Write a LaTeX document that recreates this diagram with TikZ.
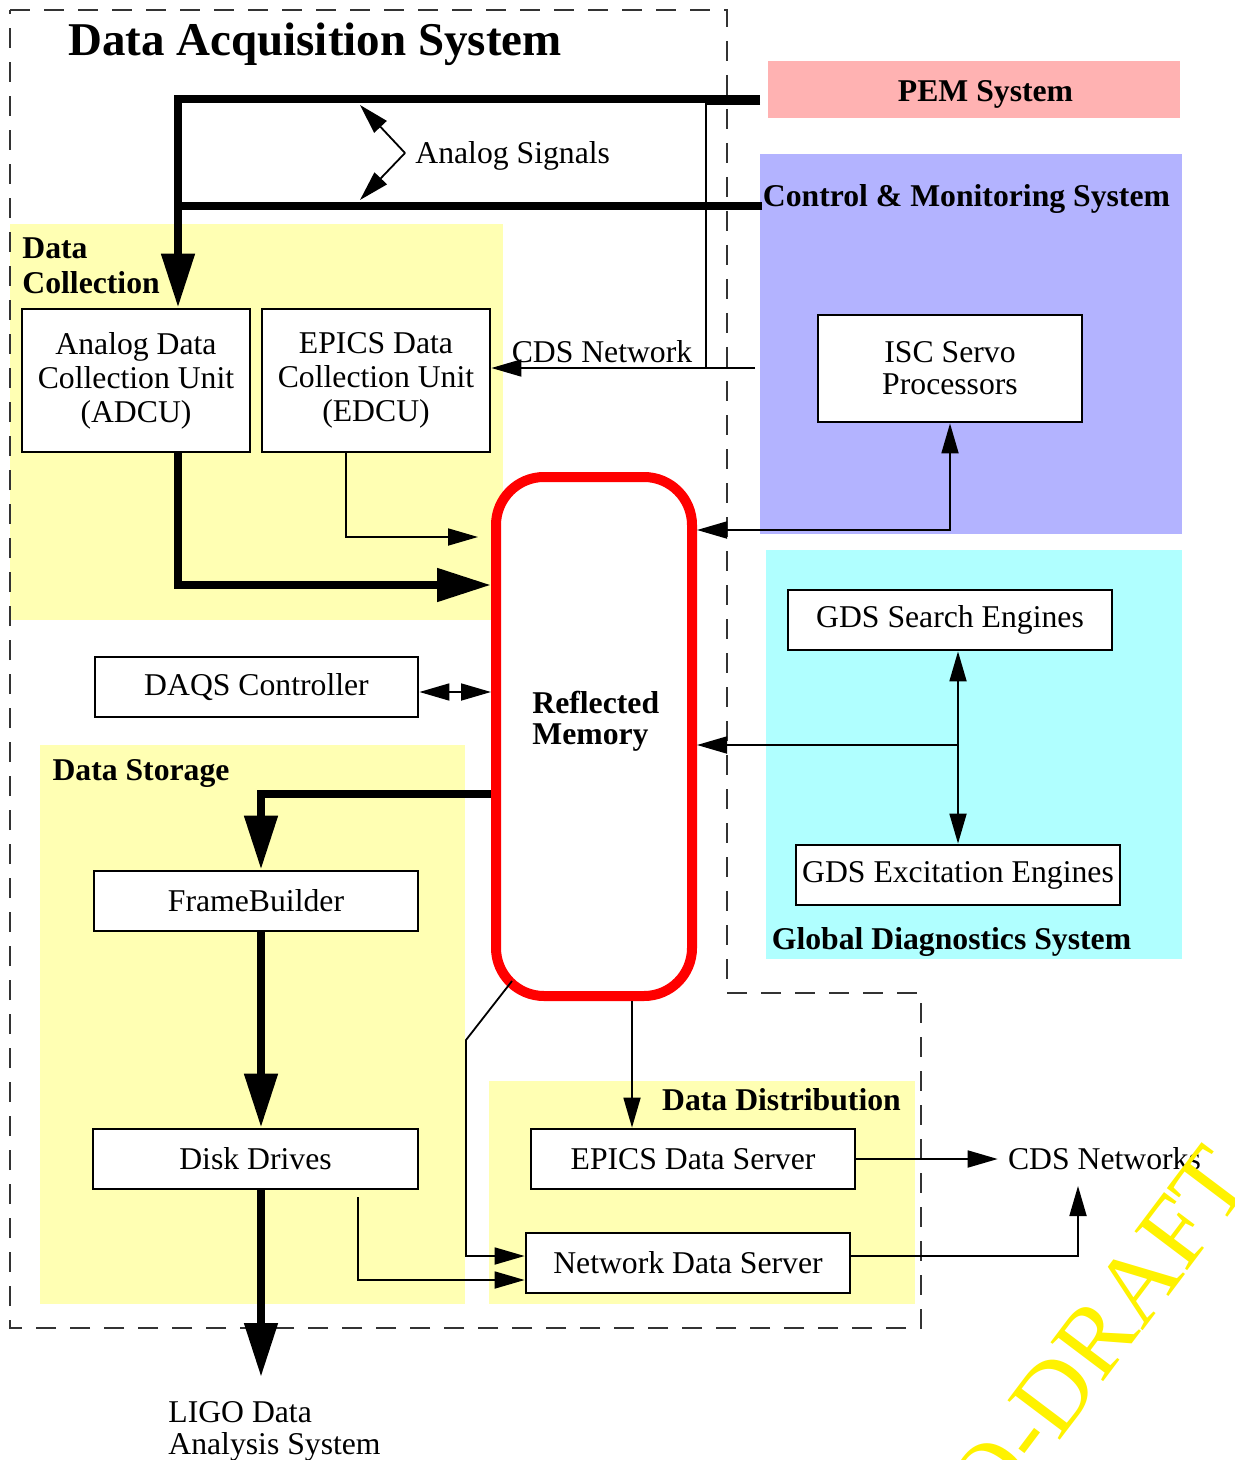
\documentclass[tikz,border=0pt]{standalone}
\usepackage{fontspec}
\setmainfont{Liberation Serif}
\usetikzlibrary{arrows.meta}
\definecolor{pemcol}{RGB}{255,178,178}
\definecolor{cmscol}{RGB}{179,179,255}
\definecolor{gdscol}{RGB}{176,255,255}
\definecolor{subcol}{RGB}{255,255,179}
\definecolor{dashcol}{RGB}{51,51,51}
\newcommand{\txt}{\fontsize{15.85}{17}\selectfont}
\newcommand{\bigtxt}{\fontsize{23.5}{28}\selectfont\bfseries}

\begin{document}
\begin{tikzpicture}[x=0.5pt,y=-0.5pt,
	box/.style={draw,fill=white,line width=1.4pt,inner sep=0pt,font=\txt,align=center},
	area/.style={fill=#1,inner sep=0pt,anchor=north west},
	head/.style={font=\txt\bfseries,inner sep=0pt},
	plain/.style={font=\txt,inner sep=0pt},
	bus/.style={line width=4pt},
	busarrow/.style={line width=4pt,-{Triangle[length=27pt,width=16pt]}},
	wire/.style={line width=0.9pt},
	sig/.style={wire,-{Triangle[length=15pt,width=8.5pt]}},
	sigboth/.style={wire,{Triangle[length=15pt,width=8.5pt]}-{Triangle[length=15pt,width=8.5pt]}}]

	\useasboundingbox (0,0) rectangle (1235,1460);

	\node[area=pemcol,minimum width=206pt,minimum height=28.5pt] (pem) at (768,61) {};
	\node[area=cmscol,minimum width=211pt,minimum height=190pt] (cms) at (760,154) {};
	\node[area=gdscol,minimum width=208pt,minimum height=204.5pt] (gds) at (766,550) {};
	\node[area=subcol,minimum width=246.5pt,minimum height=198pt] (dcoll) at (10,224) {};
	\node[area=subcol,minimum width=212.5pt,minimum height=279.5pt] (dstor) at (40,745) {};
	\node[area=subcol,minimum width=213pt,minimum height=111.5pt] (ddist) at (489,1081) {};

	\draw[dashcol,line width=1pt,dash pattern=on 10pt off 7pt] (10,10) -- (727,10) -- (727,993) -- (921,993) -- (921,1328) -- (10,1328) -- cycle;

	\node[font=\bigtxt,inner sep=0pt] (title) at (315,44) {Data Acquisition System};
	\node[head] (pemlbl) at (985.5,94) {PEM System};
	\node[head] (cmslbl) at (966.5,199) {Control \& Monitoring System};
	\node[head] (gdslbl) at (951.5,942) {Global Diagnostics System};
	\node[head,align=left,anchor=north west,font=\fontsize{15.85}{17.5}\selectfont\bfseries] (dcolllbl) at (22,237) {Data\\Collection};
	\node[head] (dstorlbl) at (141,773) {Data Storage};
	\node[head] (ddistlbl) at (781.5,1100) {Data Distribution};

	\node[box,minimum width=114pt,minimum height=71.5pt] (adcu) at (136,380.5) {Analog Data\\Collection Unit\\(ADCU)};
	\node[box,minimum width=114pt,minimum height=71.5pt] (edcu) at (376,380.5) {EPICS Data\\Collection Unit\\(EDCU)};
	\node[box,minimum width=132pt,minimum height=53.5pt,font=\fontsize{15.85}{16}\selectfont] (isc) at (950,368.5) {ISC Servo\\Processors};
	\node[box,minimum width=162pt,minimum height=30pt] (gdssrch) at (950,620) {GDS Search Engines};
	\node[box,minimum width=162pt,minimum height=30pt] (gdsexc) at (958,875) {GDS Excitation Engines};
	\node[box,minimum width=161.5pt,minimum height=30pt] (daqs) at (256.5,687) {DAQS Controller};
	\node[box,minimum width=162pt,minimum height=30pt] (fb) at (256,901) {FrameBuilder};
	\node[box,minimum width=162.5pt,minimum height=30pt] (disk) at (255.5,1159) {Disk Drives};
	\node[box,minimum width=162pt,minimum height=30pt] (eds) at (693,1159) {EPICS Data Server};
	\node[box,minimum width=162pt,minimum height=30pt] (nds) at (688,1263) {Network Data Server};

	\node[draw=red,line width=5pt,fill=white,rounded corners=24pt,minimum width=98pt,minimum height=259.5pt] (rm) at (594,736.5) {};
	\node[head,align=left,anchor=north west,font=\fontsize{15.85}{15.5}\selectfont\bfseries] (rmlbl) at (532,691) {Reflected\\Memory};

	\node[plain,anchor=west] (siglbl) at (415,156) {Analog Signals};
	\node[plain] (cdsnet) at (602,352) {CDS Network};
	\node[plain,inner sep=5pt] (cdsnets) at (1104.5,1159) {CDS Networks};
	\node[plain,align=left,anchor=north west,font=\fontsize{15.85}{16}\selectfont] (ligo) at (168,1401) {LIGO Data\\Analysis System};

	\coordinate (pemout) at (760,99);
	\coordinate (cmsout) at (762,206);
	\coordinate (trunk) at (178,99);
	\coordinate (pemtap) at (760,104);
	\coordinate (cdstap) at (706,104);
	\coordinate (cdsin) at (755,368);
	\coordinate (sigknee) at (405,153);
	\coordinate (sigtop) at (360,105);
	\coordinate (sigbot) at (360,200);
	\coordinate (edcuin) at (478,537);
	\coordinate (spine) at (261,794);
	\coordinate (ligoin) at (261,1377);
	\coordinate (rmcorner) at (512,981);
	\coordinate (diskout) at (358,1197);
	\coordinate (netsin) at (1078,1186);

	\draw[busarrow] (pemout) -- (trunk) -- (trunk |- adcu.north);
	\draw[bus] (cmsout) -- (cmsout -| trunk);
	\draw[wire] (pemtap) -- (cdstap) -- (cdstap |- cdsin);
	\draw[sig] (cdsin) -- (cdsin -| edcu.east);
	\draw[sig] (sigknee) -- (sigtop);
	\draw[sig] (sigknee) -- (sigbot);

	\draw[busarrow] (adcu.south -| trunk) |- (rm.west |- 0,585);
	\draw[sig] ([xshift=-15pt]edcu.south) |- (edcuin);
	\draw[sigboth] (isc.south) |- (rm.east |- 0,530);
	\draw[sigboth] (gdssrch.south -| gdsexc.north) -- (gdsexc.north);
	\draw[sig] (gdsexc.north |- 0,745) -- (rm.east |- 0,745);
	\draw[sigboth] ([yshift=-2.5pt]daqs.east) -- ([yshift=-2.5pt]daqs.east -| rm.west);

	\draw[busarrow] (rm.west |- spine) -| (fb.north -| spine);
	\draw[busarrow] (fb.south -| spine) -- (disk.north -| spine);
	\draw[busarrow] (disk.south -| spine) -- (ligoin);
	\draw[sig] (diskout) |- (nds.west |- 0,1280);
	\draw[sig] (rmcorner) -- (466,1040) |- (nds.west |- 0,1256);
	\draw[sig] (rm.south -| 632,0) -- (eds.north -| 632,0);
	\draw[sig] (eds.east) -- (cdsnets.west);
	\draw[sig] (nds.east |- 0,1256) -| (netsin);

	\node[rotate=53,text=yellow,font=\fontsize{50}{50}\selectfont,anchor=base east,inner sep=0pt] (draft) at (1256,1180) {O-DRAFT};
\end{tikzpicture}
\end{document}
